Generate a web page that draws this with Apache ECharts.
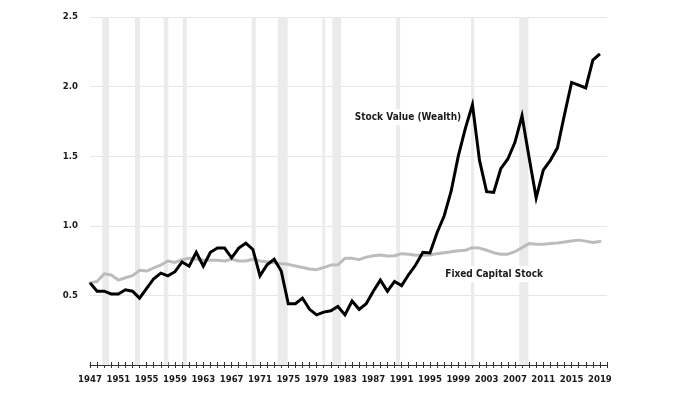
<!DOCTYPE html>
<html>
<head>
<meta charset="utf-8">
<script src="https://cdn.jsdelivr.net/npm/echarts@6/dist/echarts.min.js"></script>
<style>
html,body{margin:0;padding:0;background:#fff;}
#chart{width:682px;height:399px;}
</style>
</head>
<body>
<div id="chart"></div>
<script>
const years = [];
for (let y = 1947; y <= 2019; y++) years.push(y);

const stockValue = [
  0.59, 0.53, 0.53, 0.51, 0.51, 0.54, 0.53, 0.48, 0.55, 0.62,
  0.66, 0.64, 0.67, 0.74, 0.71, 0.81, 0.71, 0.81, 0.84, 0.84,
  0.77, 0.84, 0.875, 0.83, 0.64, 0.72, 0.76, 0.675, 0.44, 0.44,
  0.48, 0.40, 0.36, 0.38, 0.39, 0.42, 0.36, 0.46, 0.40, 0.44,
  0.53, 0.61, 0.53, 0.60, 0.57, 0.65, 0.72, 0.81, 0.805, 0.95,
  1.07, 1.25, 1.50, 1.70, 1.87, 1.47, 1.245, 1.24, 1.41, 1.48,
  1.60, 1.79, 1.49, 1.20, 1.40, 1.47, 1.56, 1.80, 2.03, 2.01,
  1.99, 2.19, 2.235
];

const fixedCapital = [
  0.59, 0.60, 0.655, 0.646, 0.61, 0.627, 0.642, 0.68, 0.675, 0.697,
  0.718, 0.747, 0.737, 0.756, 0.767, 0.76, 0.752, 0.752, 0.752, 0.747,
  0.76, 0.747, 0.747, 0.76, 0.747, 0.742, 0.735, 0.728, 0.723, 0.711,
  0.70, 0.69, 0.685, 0.70, 0.718, 0.72, 0.767, 0.767, 0.757, 0.775,
  0.785, 0.79, 0.783, 0.785, 0.80, 0.795, 0.788, 0.788, 0.79, 0.80,
  0.807, 0.814, 0.82, 0.824, 0.843, 0.84, 0.824, 0.807, 0.796, 0.796,
  0.814, 0.843, 0.872, 0.868, 0.868, 0.872, 0.877, 0.884, 0.89, 0.897,
  0.89, 0.88, 0.887
];

const recessions = [
  [1948.74, 1949.68], [1953.36, 1954.06], [1957.41, 1958.06], [1960.09, 1960.66],
  [1969.84, 1970.40], [1973.51, 1974.92], [1979.81, 1980.19], [1981.22, 1982.45],
  [1990.22, 1990.79], [2000.81, 2001.24], [2007.60, 2008.90]
];

const xTickLabels = [1947, 1951, 1955, 1959, 1963, 1967, 1971, 1975, 1979, 1983, 1987, 1991, 1995, 1999, 2003, 2007, 2011, 2015, 2019];
const yTickLabels = [0.5, 1.0, 1.5, 2.0, 2.5];

const stockLabel = 'Stock Value (Wealth)';
const stockLabelAt = [1991.9, 1.78];
const capitalLabel = 'Fixed Capital Stock';
const capitalLabelAt = [2004.06, 0.653];

const FONT = '"Liberation Sans Narrow", "DejaVu Sans Condensed", sans-serif';

const chart = echarts.init(document.getElementById('chart'), null, {renderer: 'canvas'});

const baseX = {
  type: 'value', min: 1947, max: 2020, interval: 1,
  splitLine: {show: false}
};

const annotation = (text, coord) => ({
  coord: coord,
  symbol: 'rect', symbolSize: 1,
  itemStyle: {color: 'rgba(0,0,0,0)'},
  label: {
    show: true, position: 'inside', formatter: text,
    fontFamily: FONT, fontWeight: 'bold', fontSize: 10, color: '#1a1a1a',
    backgroundColor: '#ffffff', padding: [3, 3]
  }
});

chart.setOption({
  animation: false,
  backgroundColor: '#ffffff',
  grid: {left: 90, right: 75, top: 17, bottom: 34, containLabel: false},
  xAxis: [
    Object.assign({}, baseX, {
      position: 'bottom',
      axisLine: {show: true, lineStyle: {color: '#333', width: 1}},
      axisTick: {show: true, length: 3, lineStyle: {color: '#333'}},
      axisLabel: {
        show: true, margin: 10, fontFamily: FONT, fontWeight: 'bold', fontSize: 9.5, color: '#1a1a1a',
        formatter: v => xTickLabels.indexOf(v) >= 0 ? String(v) : ''
      }
    }),
    Object.assign({}, baseX, {
      position: 'bottom',
      axisLine: {show: false},
      axisTick: {show: true, inside: true, length: 3, lineStyle: {color: '#333'}},
      axisLabel: {show: false}
    })
  ],
  yAxis: {
    type: 'value', min: 0, max: 2.5, interval: 0.5,
    axisLine: {show: false}, axisTick: {show: false},
    splitLine: {show: true, lineStyle: {color: '#e6e6e6', width: 1}},
    axisLabel: {
      margin: 12, fontFamily: FONT, fontWeight: 'bold', fontSize: 9.5, color: '#1a1a1a',
      formatter: v => yTickLabels.some(t => Math.abs(t - v) < 1e-9) ? v.toFixed(1) : ''
    }
  },
  series: [
    {
      name: 'Fixed Capital Stock', type: 'line', xAxisIndex: 0,
      data: years.map((y, i) => [y, fixedCapital[i]]),
      symbol: 'none', smooth: false,
      lineStyle: {color: '#bcbcbc', width: 3, join: 'round', cap: 'round'},
      markArea: {
        silent: true,
        itemStyle: {color: '#ebebeb'},
        data: recessions.map(r => [{xAxis: r[0]}, {xAxis: r[1]}])
      },
      markPoint: {
        silent: true,
        data: [annotation(stockLabel, stockLabelAt), annotation(capitalLabel, capitalLabelAt)]
      },
      z: 2
    },
    {
      name: 'Stock Value (Wealth)', type: 'line', xAxisIndex: 0,
      data: years.map((y, i) => [y, stockValue[i]]),
      symbol: 'none', smooth: false,
      lineStyle: {color: '#000000', width: 3, join: 'miter', cap: 'butt'},
      z: 3
    }
  ]
});
</script>
</body>
</html>
